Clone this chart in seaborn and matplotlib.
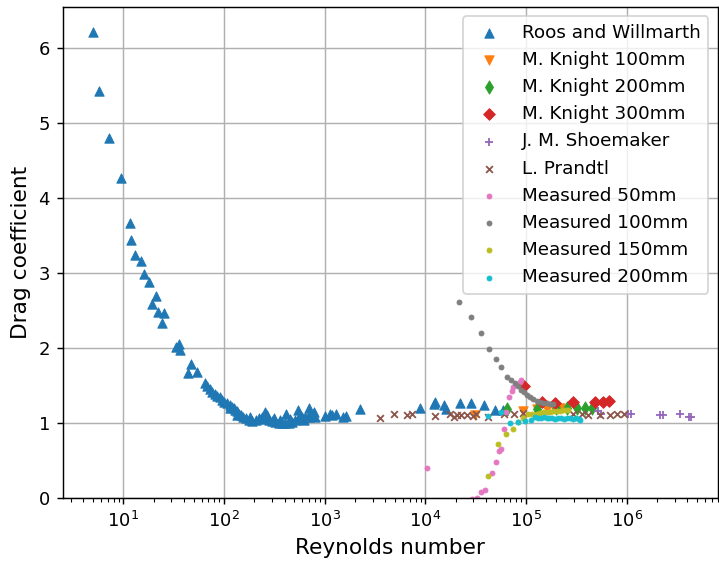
import matplotlib
matplotlib.use("Agg")
import matplotlib.pyplot as plt
import seaborn as sns

# Roos and Willmarth
roos_re = [5.03, 5.73, 7.2, 9.4, 11.6, 11.9, 13.2, 14.9, 16.0, 17.9, 20.9, 19.4, 22.2, 25.3,
           24.4, 33.0, 35.6, 36.2, 46.6, 43.8, 54.2, 64.6, 68.1, 72.4, 76.4, 80.6, 85.7, 91.0,
           96.0, 101, 108, 114, 116, 121, 125, 130, 135, 135, 140, 146, 155, 164, 177, 183,
           191, 206, 222, 239, 253, 258, 268, 279, 301, 313, 324, 350, 364, 378, 407, 417,
           440, 457, 475, 513, 541, 553, 574, 597, 620, 644, 695, 695, 721, 750, 791, 809,
           1016, 1122, 1186, 1309, 1524, 1644, 2228, 8913, 12080, 12560, 15170, 16130,
           22230, 28580, 37860, 49420, 59790]
roos_cd = [6.21, 5.43, 4.80, 4.27, 3.67, 3.44, 3.24, 3.16, 2.99, 2.88, 2.69, 2.59, 2.48, 2.47,
           2.33, 2.01, 2.06, 1.97, 1.79, 1.67, 1.68, 1.53, 1.49, 1.45, 1.42, 1.39, 1.36, 1.35,
           1.31, 1.29, 1.27, 1.24, 1.20, 1.22, 1.20, 1.18, 1.16, 1.11, 1.13, 1.11, 1.09, 1.07,
           1.04, 1.09, 1.035, 1.044, 1.067, 1.08, 1.156, 1.053, 1.11, 1.044, 1.035, 1.067,
           1.022, 1.009, 1.044, 1.00, 1.00, 1.124, 1.009, 1.053, 1.022, 1.044, 1.178, 1.067,
           1.111, 1.08, 1.044, 1.08, 1.089, 1.20, 1.133, 1.098, 1.156, 1.089, 1.098, 1.124,
           1.11, 1.12, 1.088, 1.097, 1.186, 1.208, 1.253, 1.288, 1.244, 1.186, 1.275, 1.275,
           1.244, 1.177, 1.177]

# M. Knight
knight100_re = [31300, 94000, 128000, 161000, 190000, 218000]
knight100_cd = [1.11, 1.16, 1.19, 1.19, 1.20, 1.20]
knight200_re = [64600, 128000, 200000, 254000, 319000, 390000, 450000]
knight200_cd = [1.19, 1.19, 1.20, 1.21, 1.20, 1.20, 1.20]
knight300_re = [96000, 145000, 195000, 295000, 485000, 580000, 670000]
knight300_cd = [1.50, 1.29, 1.27, 1.29, 1.29, 1.29, 1.30]

# J. M. Shoemaker
shoe_re = [5.2e5, 5.5e5, 1.04e6, 1.1e6, 2.15e6, 2.3e6, 3.4e6, 4.15e6, 4.4e6]
shoe_cd = [1.16, 1.13, 1.12, 1.12, 1.11, 1.11, 1.12, 1.09, 1.08]

# L. Prandtl
prandtl_re = [3570, 4920, 6560, 7360, 12600, 17700, 19100, 20600, 22800, 25900, 30100,
              32000, 41500, 61000, 76000, 94000, 2.95e5, 3.6e5, 4.1e5, 5.4e5, 6.8e5,
              8.1e5, 9.4e5]
prandtl_cd = [1.075, 1.12, 1.11, 1.13, 1.10, 1.12, 1.08, 1.11, 1.11, 1.11, 1.10,
              1.12, 1.08, 1.12, 1.12, 1.14, 1.13, 1.13, 1.11, 1.11, 1.11,
              1.12, 1.13]

# Measured
m50_re = [10500, 29000, 32500, 35900, 39300, 46400, 50100, 54100, 56200, 60700, 63500,
          68400, 72200, 75000, 87300, 90000]
m50_cd = [0.40, -0.01, 0.01, 0.08, 0.11, 0.34, 0.49, 0.63, 0.66, 0.93, 1.15,
          1.35, 1.43, 1.48, 1.555, 1.57]
m100_re = [21700, 28500, 35600, 42800, 50100, 56600, 64500, 70700, 78000, 84100, 89400,
           95800, 102000, 110000, 118000, 128000, 138000, 149000, 161000, 173000, 187000]
m100_cd = [2.62, 2.41, 2.20, 1.99, 1.86, 1.75, 1.62, 1.57, 1.54, 1.50, 1.44,
           1.41, 1.38, 1.35, 1.32, 1.30, 1.28, 1.27, 1.27, 1.26, 1.26]
m150_re = [42400, 53200, 63500, 74000, 84100, 94200, 105600, 116000, 128000, 138000,
           149000, 160000, 173000, 187000, 202000, 218000, 235000, 250000, 264000]
m150_cd = [0.30, 0.73, 0.86, 0.92, 1.02, 1.075, 1.12, 1.13, 1.13, 1.14,
           1.15, 1.15, 1.155, 1.16, 1.165, 1.17, 1.175, 1.175, 1.18]
m200_re = [41500, 56200, 69500, 84000, 98000, 112000, 123000, 131000, 140000, 150000,
           160000, 171000, 183000, 196000, 210000, 224000, 240000, 257000, 274000,
           293000, 314000, 335000, 345000]
m200_cd = [1.10, 1.155, 1.00, 1.02, 1.03, 1.045, 1.08, 1.075, 1.07, 1.08,
           1.07, 1.065, 1.07, 1.06, 1.065, 1.07, 1.06, 1.065, 1.07,
           1.06, 1.065, 1.06, 1.05]

x_ticks = [1e1, 1e2, 1e3, 1e4, 1e5, 1e6]

# label, Re, Cd, marker, colour, marker area (pt^2), edge width
series = [
    ("Roos and Willmarth", roos_re, roos_cd, "^", "C0", 27, 0.5),
    ("M. Knight 100mm", knight100_re, knight100_cd, "v", "C1", 27, 0.5),
    ("M. Knight 200mm", knight200_re, knight200_cd, "d", "C2", 27, 0.5),
    ("M. Knight 300mm", knight300_re, knight300_cd, "D", "C3", 21, 0.5),
    ("J. M. Shoemaker", shoe_re, shoe_cd, "+", "C4", 22, 1.0),
    ("L. Prandtl", prandtl_re, prandtl_cd, "x", "C5", 14, 1.0),
    ("Measured 50mm", m50_re, m50_cd, ".", "C6", 30, 0.5),
    ("Measured 100mm", m100_re, m100_cd, ".", "C7", 30, 0.5),
    ("Measured 150mm", m150_re, m150_cd, ".", "C8", 30, 0.5),
    ("Measured 200mm", m200_re, m200_cd, ".", "C9", 30, 0.5),
]

fig, ax = plt.subplots(figsize=(719 / 130, 563 / 130), dpi=130)
fig.subplots_adjust(left=0.0872, right=0.998, bottom=0.115, top=0.9876)

for label, re_vals, cd_vals, marker, color, size, lw in series:
    sns.scatterplot(x=re_vals, y=cd_vals, marker=marker, color=color, edgecolor=color,
                    s=size, linewidth=lw, label=label, ax=ax, zorder=2, legend=False)

ax.set_xscale("log")
ax.set_xticks(x_ticks)
ax.set_xlim(2.5, 8.0e6)
ax.set_ylim(0, 6.55)
ax.grid(True)
ax.set_xlabel("Reynolds number", fontsize=12)
ax.set_ylabel("Drag coefficient", fontsize=12)
ax.legend(loc="upper right", prop={"size": 10.2})

fig.savefig("out.png", dpi=130)
